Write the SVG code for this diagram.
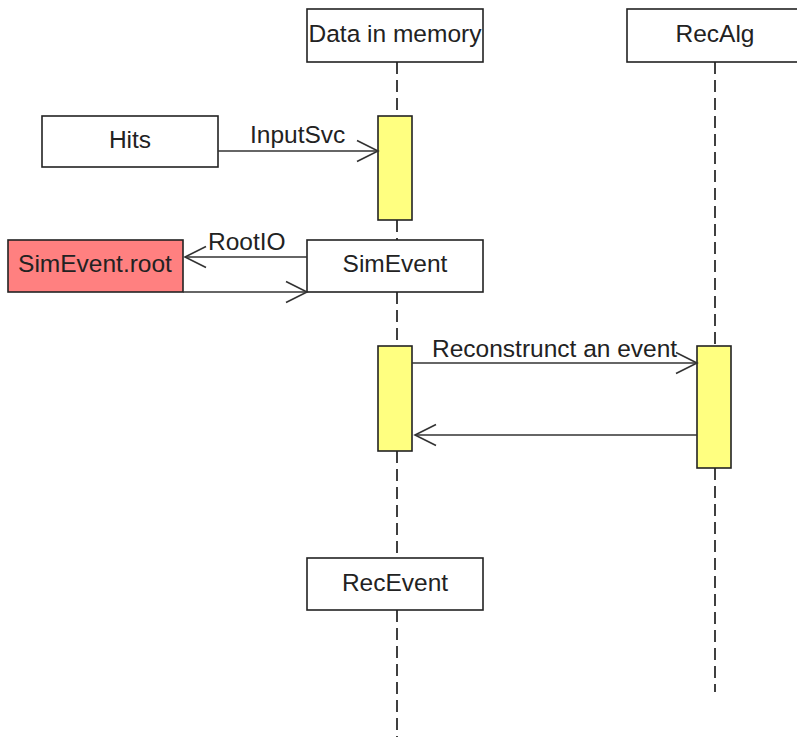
<svg xmlns="http://www.w3.org/2000/svg" width="797" height="737" viewBox="0 0 797 737">
<style>
text{font-family:"Liberation Sans",Arial,sans-serif;font-size:24.5px;fill:#222}
.box{fill:#fff;stroke:#222;stroke-width:1.6}
.act{fill:#ffff80;stroke:#222;stroke-width:1.6}
.life{stroke:#111;stroke-width:1.6;stroke-dasharray:12,6;fill:none}
.msg{stroke:#333;stroke-width:1.6;fill:none;marker-end:url(#open)}
</style>
<defs>
<marker id="open" viewBox="0 0 24 24" refX="22" refY="12" markerWidth="24" markerHeight="24" markerUnits="userSpaceOnUse" orient="auto">
<path d="M1,1.5 L22,12 L1,22.5" fill="none" stroke="#333" stroke-width="1.6"/>
</marker>
</defs>
<rect width="797" height="737" fill="#fff"/>
<g id="lifelines">
<path class="life" d="M397,62 V116 M397,220 V240 M397,292 V346 M397,451 V558 M397,610 V737"/>
<path class="life" d="M715,62 V346 M715,468 V692"/>
</g>
<g id="data-in-memory"><rect class="box" x="307" y="9" width="176" height="53"/><text x="395" y="42" text-anchor="middle">Data in memory</text></g>
<g id="recalg"><rect class="box" x="627" y="9" width="176" height="53"/><text x="715" y="42" text-anchor="middle">RecAlg</text></g>
<g id="hits"><rect class="box" x="42" y="116" width="176" height="51"/><text x="130" y="148" text-anchor="middle">Hits</text></g>
<g id="act1"><rect class="act" x="378" y="116" width="34" height="104"/></g>
<g id="simevent-root"><rect x="8" y="240" width="175" height="52" fill="#ff8080" stroke="#222" stroke-width="1.6"/><text x="95" y="272" text-anchor="middle">SimEvent.root</text></g>
<g id="simevent"><rect class="box" x="307" y="240" width="176" height="52"/><text x="395" y="272" text-anchor="middle">SimEvent</text></g>
<g id="act2"><rect class="act" x="378" y="346" width="34" height="105"/></g>
<g id="act3"><rect class="act" x="697" y="346" width="34" height="122"/></g>
<g id="recevent"><rect class="box" x="307" y="558" width="176" height="52"/><text x="395" y="591" text-anchor="middle">RecEvent</text></g>
<g id="connectors">
<line class="msg" x1="218" y1="151" x2="378" y2="151"/>
<line class="msg" x1="307" y1="257" x2="185" y2="257"/>
<line class="msg" x1="183" y1="292" x2="307" y2="292"/>
<line class="msg" x1="412" y1="363" x2="697" y2="363"/>
<line class="msg" x1="697" y1="435" x2="415" y2="435"/>
<text x="250" y="143">InputSvc</text>
<text x="208" y="250">RootIO</text>
<text x="432" y="357">Reconstrunct an event</text>
</g>
</svg>
